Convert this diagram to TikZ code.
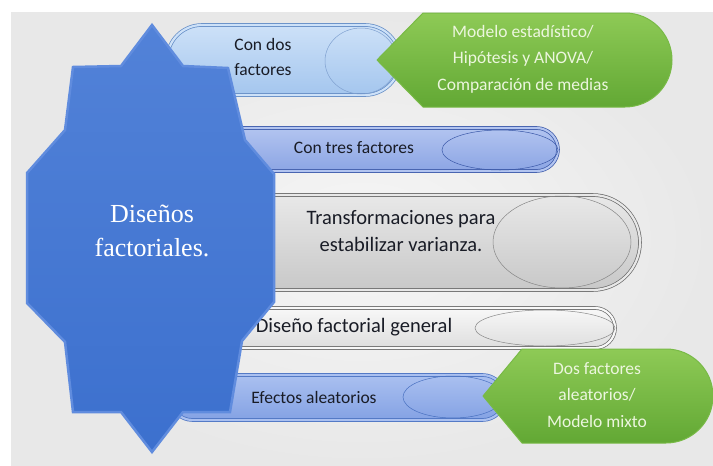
\documentclass[tikz,border=0pt]{standalone}
\usepackage{fontspec}
\setmainfont{Carlito}
\newfontfamily\starfont{Liberation Serif}
\usetikzlibrary{shapes.misc,shapes.geometric}

\definecolor{bgedge}{RGB}{232,232,232}
\definecolor{bgmid}{RGB}{246,246,246}
\definecolor{starblue}{RGB}{60,112,206}
\definecolor{starlight}{RGB}{82,130,216}
\definecolor{starrim}{RGB}{96,140,222}
\definecolor{greentop}{RGB}{142,202,86}
\definecolor{greenbot}{RGB}{98,168,52}
\definecolor{greenrim}{RGB}{120,186,70}
\definecolor{greentext}{RGB}{236,246,222}
\definecolor{inktext}{RGB}{25,28,38}
\definecolor{skytop}{RGB}{205,225,248}
\definecolor{skybot}{RGB}{164,198,238}
\definecolor{skyrim}{RGB}{96,138,196}
\definecolor{lavtop}{RGB}{178,196,240}
\definecolor{lavbot}{RGB}{140,165,228}
\definecolor{lavrim}{RGB}{58,88,168}
\definecolor{greytop}{RGB}{232,232,232}
\definecolor{greybot}{RGB}{200,200,200}
\definecolor{greyrim}{RGB}{105,105,105}
\definecolor{whitetop}{RGB}{248,248,248}
\definecolor{whitebot}{RGB}{222,222,222}
\definecolor{midtop}{RGB}{170,192,240}
\definecolor{midbot}{RGB}{132,162,228}
\definecolor{midrim}{RGB}{72,112,192}

\begin{document}
\begin{tikzpicture}[x=1pt, y=-1pt,
    pill/.style={rounded rectangle, inner sep=0pt, line width=0.7pt, double distance=2.2pt},
    gloss/.style={ellipse, draw, inner sep=0pt, line width=0.5pt},
    bartext/.style={font=\fontsize{17.5}{25}\selectfont, align=center, text=inktext, inner sep=0pt},
    bigtext/.style={bartext, font=\fontsize{20.5}{27.5}\selectfont},
    greentext/.style={font=\fontsize{17.5}{26.5}\selectfont, align=center, text=greentext, inner sep=0pt},
    callout/.style={top color=greentop, bottom color=greenbot, draw=greenrim, line width=1pt, line join=round}]
  \useasboundingbox (0,0) rectangle (713,466);
  \fill[white] (0,0) rectangle (713,466);
  \shade[inner color=bgmid, outer color=bgedge] (11,12) rectangle (713,466);

  % bars
  \node[pill, draw=skyrim, double=skytop, top color=skytop, bottom color=skybot,
        minimum width=233, minimum height=70] (b1) at (283.5,60) {};
  \node[gloss, draw=skyrim!80, minimum width=72, minimum height=66] (e1) at (361,61) {};
  \node[bartext, align=left] (t1) at (263,57) {Con dos\\factores};

  \node[pill, draw=lavrim, double=lavtop, top color=lavtop, bottom color=lavbot,
        minimum width=388, minimum height=43] (b2) at (364,149.5) {};
  \node[gloss, draw=lavrim, minimum width=116, minimum height=40] (e2) at (500,150) {};
  \node[bartext] (t2) at (354,148) {Con tres factores};

  \node[pill, draw=greyrim, double=greytop, top color=greytop, bottom color=greybot,
        minimum width=470, minimum height=95] (b3) at (405,242.5) {};
  \node[gloss, draw=greyrim!80, minimum width=138, minimum height=92] (e3) at (562,242) {};
  \node[bigtext] (t3) at (401,231) {Transformaciones para\\estabilizar varianza.};

  \node[pill, draw=greyrim, double=whitetop, top color=whitetop, bottom color=whitebot,
        minimum width=445, minimum height=40] (b4) at (392.5,328) {};
  \node[gloss, draw=greyrim!80, minimum width=140, minimum height=36] (e4) at (545,328) {};
  \node[bigtext] (t4) at (354,327) {Diseño factorial general};

  \node[pill, draw=midrim, double=midtop, top color=midtop, bottom color=midbot,
        minimum width=335, minimum height=45] (b5) at (337.5,397.5) {};
  \node[gloss, draw=midrim, minimum width=100, minimum height=42] (e5) at (453,397) {};
  \node[bartext] (t5) at (314,397) {Efectos aleatorios};

  % green callouts
  \draw[callout] (377,60) -- (423,13) -- (625,13) arc[start angle=-90, end angle=90, radius=47]
    -- (423,107) -- cycle;
  \node[greentext] (g1) at (523,59) {Modelo estadístico/\\Hipótesis y ANOVA/\\Comparación de medias};

  \draw[callout] (483,396) -- (522,349) -- (666,349) arc[start angle=-90, end angle=90, radius=47]
    -- (522,443) -- cycle;
  \node[greentext] (g2) at (597,395) {Dos factores\\aleatorios/\\Modelo mixto};

  % star
  \draw[top color=starlight, bottom color=starblue, draw=starrim, line width=2.5pt, line join=miter]
    (152,25) -- (183,66) -- (228,68) -- (245,140) -- (274,174) -- (274,302) -- (242,341)
    -- (230,412) -- (183,412) -- (152,452) -- (121,412) -- (73,412) -- (65,342) -- (27,303)
    -- (27,173) -- (65,130) -- (73,67) -- (121,66) -- cycle;
  \node[text=white, font=\starfont\fontsize{26}{34}\selectfont, align=center] (star) at (152,231)
    {Diseños\\factoriales.};
\end{tikzpicture}
\end{document}
